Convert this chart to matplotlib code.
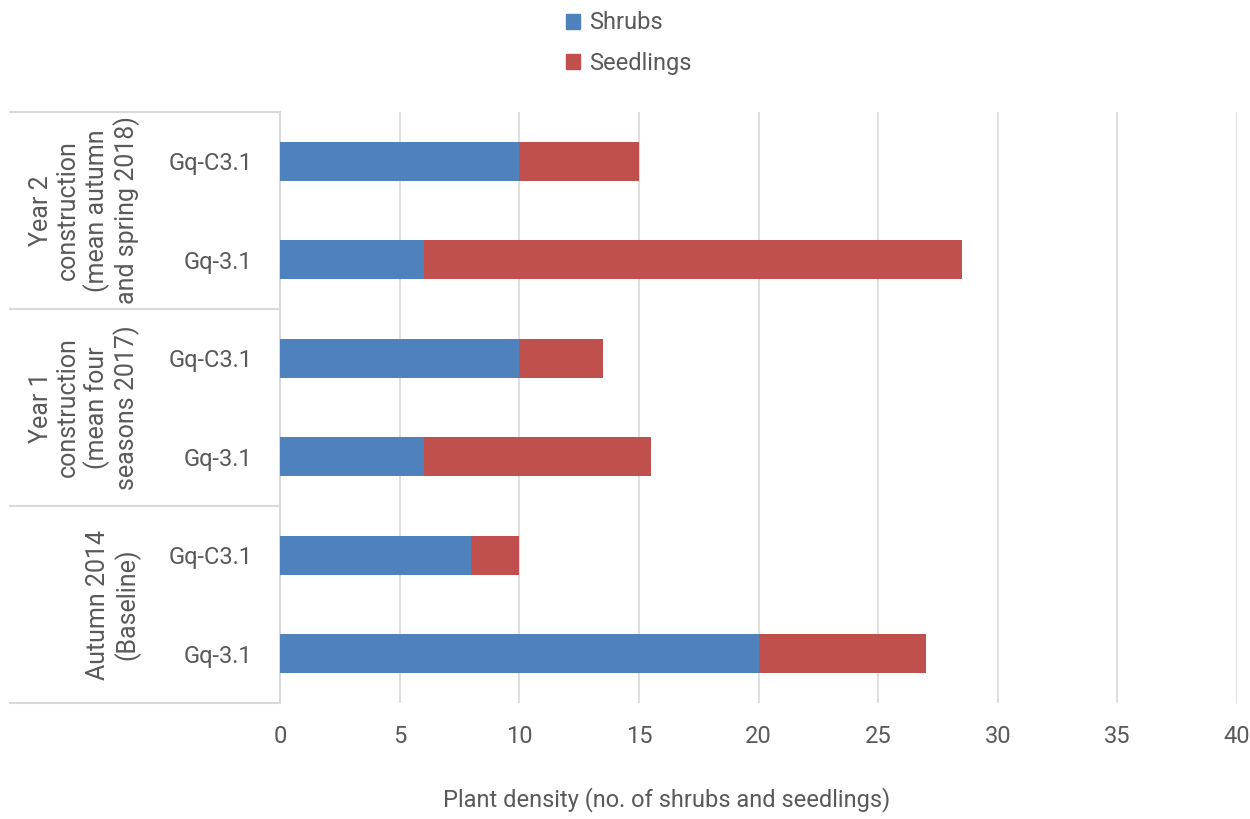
import matplotlib
matplotlib.use("Agg")
import matplotlib.pyplot as plt
from matplotlib.lines import Line2D
from matplotlib.patches import Patch
import numpy as np

plt.rcParams['font.family'] = ['Roboto', 'DejaVu Sans']

# bottom-to-top order of the bars
sites = ["Gq-3.1", "Gq-C3.1", "Gq-3.1", "Gq-C3.1", "Gq-3.1", "Gq-C3.1"]
periods = ["Autumn 2014\n(Baseline)",
           "Year 1\nconstruction\n(mean four\nseasons 2017)",
           "Year 2\nconstruction\n(mean autumn\nand spring 2018)"]
shrubs = [20, 8, 6, 10, 6, 10]
seedlings = [7, 2, 9.5, 3.5, 22.5, 5]
xticks = [0, 5, 10, 15, 20, 25, 30, 35, 40]

blue = "#4F81BD"
red = "#C0504D"
grey_text = "#595959"
grid_col = "#D9D9D9"

fig = plt.figure(figsize=(12.5, 8.19), dpi=100)
ax = fig.add_axes([0.224, 0.1416, 0.7656, 0.7216])

y = np.arange(len(sites))
ax.barh(y, shrubs, height=0.4, color=blue, label="Shrubs", zorder=3)
ax.barh(y, seedlings, left=shrubs, height=0.4, color=red, label="Seedlings", zorder=3)

ax.set_xlim(0, 40)
ax.set_ylim(-0.5, len(sites) - 0.5)
ax.set_xticks(xticks)
ax.set_xticklabels([str(t) for t in xticks])
ax.set_yticks(y)
ax.set_yticklabels(sites)
ax.tick_params(axis='both', length=0, colors=grey_text, labelsize=17)
ax.tick_params(axis='x', pad=16)
ax.tick_params(axis='y', pad=20)
ax.xaxis.grid(True, color=grid_col, linewidth=1.2, zorder=0)
for s in ["top", "right", "bottom"]:
    ax.spines[s].set_visible(False)
ax.spines["left"].set_color(grid_col)
ax.spines["left"].set_linewidth(1.5)

fig.text(0.5336, 1 - 800 / 819, "Plant density (no. of shrubs and seedlings)",
         ha='center', va='center', fontsize=17, color=grey_text)

# group frame on the category axis
trans = ax.get_yaxis_transform()
x_left = -270 / 957
for b in [-0.5, 1.5, 3.5, 5.5]:
    ax.add_line(Line2D([x_left, 0], [b, b], transform=trans, color=grid_col,
                       linewidth=1.5, clip_on=False))

for i, label in enumerate(periods):
    yc = 2 * i + 0.5
    ax.text(-140 / 957, yc, label, transform=trans, rotation=90,
            ha='right', va='center', multialignment='center',
            fontsize=18, color=grey_text, linespacing=1.15)

handles = [Patch(color=blue, label="Shrubs"), Patch(color=red, label="Seedlings")]
fig.legend(handles=handles, loc='upper center', bbox_to_anchor=(0.503, 1.012),
           frameon=False, fontsize=17, labelcolor=grey_text, handlelength=0.6,
           handleheight=0.6, handletextpad=0.4, labelspacing=0.75)

fig.savefig("out.png", dpi=100, facecolor="white")
